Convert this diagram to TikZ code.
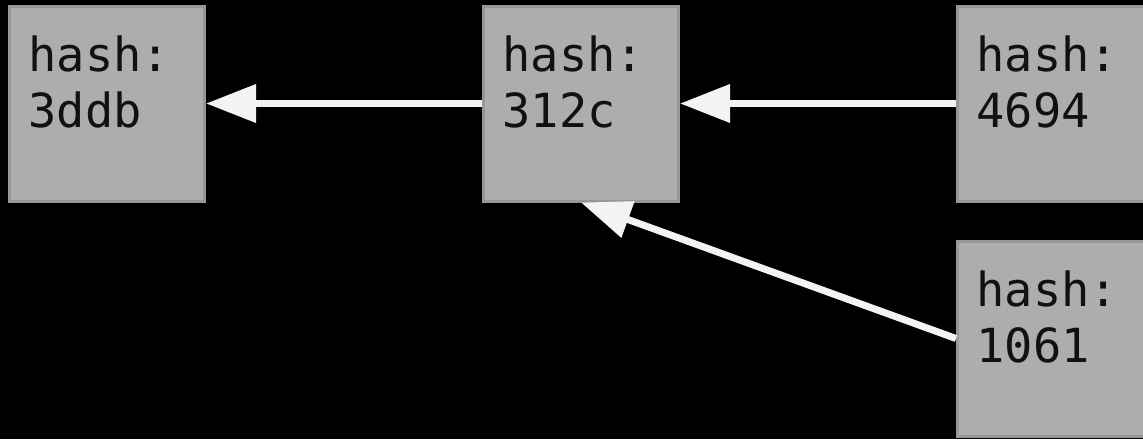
\documentclass[tikz,border=0pt]{standalone}
\usepackage{fontspec}
\newfontfamily\hashfont{DejaVu Sans Mono}
\usetikzlibrary{arrows.meta}
\definecolor{boxfill}{HTML}{ADADAD}
\definecolor{boxline}{HTML}{979797}
\definecolor{arrowc}{HTML}{F3F3F3}
\definecolor{txt}{HTML}{111111}
\newcommand{\hashtext}[1]{\parbox[t][195pt][t]{157pt}{\hashfont\fontsize{47pt}{56pt}\selectfont\rule{0pt}{65.5pt}hash:\\#1}}
\tikzset{
  commitbox/.style={draw=boxline, fill=boxfill, line width=3pt, inner xsep=19pt, inner ysep=0pt, text=txt},
  link/.style={draw=arrowc, line width=7pt, -{Triangle[length=50pt,width=37pt]}}
}
\begin{document}
\begin{tikzpicture}[x=1pt,y=-1pt]
\useasboundingbox (0,0) rectangle (1143,439);
\clip (0,0) rectangle (1143,439);
\fill[black] (0,0) rectangle (1143,439);
\node[commitbox] (b1) at (107,103.5) {\hashtext{3ddb}};
\node[commitbox] (b2) at (581,103.5) {\hashtext{312c}};
\node[commitbox] (b3) at (1055,103.5) {\hashtext{4694}};
\node[commitbox] (b4) at (1055,338.5) {\hashtext{1061}};
\draw[link] (b2.west) -- (b1.east);
\draw[link] (b3.west) -- (b2.east);
\draw[link] (b4.west) -- (b2.south);
\end{tikzpicture}
\end{document}
